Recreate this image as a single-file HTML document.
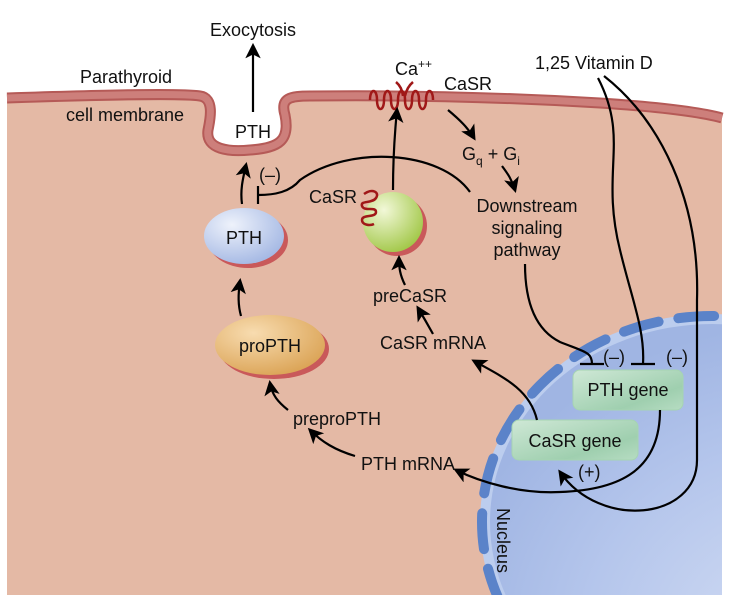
<!DOCTYPE html>
<html><head><meta charset="utf-8"><style>
html,body{margin:0;padding:0;background:#fff;width:733px;height:600px;overflow:hidden;}
svg{display:block;}
text{font-family:"Liberation Sans",Arial,sans-serif;fill:#111;}
</style></head><body>
<svg width="733" height="600" viewBox="0 0 733 600" xmlns="http://www.w3.org/2000/svg">
<defs>
<marker id="ah" viewBox="0 0 10 10" refX="8" refY="5" markerWidth="7" markerHeight="7" orient="auto-start-reverse"><path d="M0,0 L10,5 L0,10 L2.5,5 Z" fill="#000"/></marker>
<radialGradient id="nuc" cx="0.7" cy="0.8" r="0.8"><stop offset="0" stop-color="#d3ddf3"/><stop offset="0.6" stop-color="#b5c6ec"/><stop offset="1" stop-color="#a0b5e3"/></radialGradient>
<radialGradient id="blue" cx="0.35" cy="0.3" r="0.8"><stop offset="0" stop-color="#eef2fb"/><stop offset="1" stop-color="#9fb4e2"/></radialGradient>
<radialGradient id="orange" cx="0.35" cy="0.3" r="0.8"><stop offset="0" stop-color="#f8dcb0"/><stop offset="1" stop-color="#d9a050"/></radialGradient>
<radialGradient id="green" cx="0.35" cy="0.3" r="0.8"><stop offset="0" stop-color="#f2f8d8"/><stop offset="1" stop-color="#9cc43e"/></radialGradient>
<linearGradient id="gene" x1="0" y1="0" x2="1" y2="1"><stop offset="0" stop-color="#cfe8d6"/><stop offset="0.7" stop-color="#9fcfaf"/><stop offset="1" stop-color="#b6dcc2"/></linearGradient>
<clipPath id="cellclip"><rect x="7" y="0" width="715" height="595"/></clipPath>
</defs>
<path d="M7,98 C100,95 180,93 200,96 C215,98 210,120 208,130 C205,150 230,152 250,150 C280,148 290,140 285,115 C280,98 290,96 310,96 C400,95 500,97 600,103 C660,107 700,112 722,118 L722,595 L7,595 Z" fill="#e4b9a5"/>
<g clip-path="url(#cellclip)">
<ellipse cx="712" cy="522" rx="232" ry="208" fill="#bccdee"/>
<ellipse cx="712" cy="522" rx="222" ry="198" fill="url(#nuc)"/>
<ellipse cx="712" cy="522" rx="230" ry="206" fill="none" stroke="#5b83c9" stroke-width="10" stroke-linecap="round" stroke-dasharray="36 20" stroke-dashoffset="14"/>
</g>
<path d="M7,98 C100,95 180,93 200,96 C215,98 210,120 208,130 C205,150 230,152 250,150 C280,148 290,140 285,115 C280,98 290,96 310,96 C400,95 500,97 600,103 C660,107 700,112 722,118" fill="none" stroke="#b55a57" stroke-width="11"/>
<path d="M7,98 C100,95 180,93 200,96 C215,98 210,120 208,130 C205,150 230,152 250,150 C280,148 290,140 285,115 C280,98 290,96 310,96 C400,95 500,97 600,103 C660,107 700,112 722,118" fill="none" stroke="#cd7f7b" stroke-width="7"/>
<path d="M370,100 c0,-12 7,-12 7,0 c0,12 7,12 7,0 c0,-12 7,-12 7,0 c0,12 7,12 7,0 c0,-12 7,-12 7,0 c0,12 7,12 7,0 c0,-12 7,-12 7,0 c0,12 7,12 7,0 c0,-12 7,-12 7,0" fill="none" stroke="#a01818" stroke-width="2.5"/>
<path d="M396,82 q6,5 7,14 M405,96 q2,-9 8,-14" fill="none" stroke="#a01818" stroke-width="2.5"/>
<ellipse cx="248" cy="240" rx="40" ry="28" fill="#c9595a"/>
<ellipse cx="244" cy="236" rx="40" ry="28" fill="url(#blue)"/>
<ellipse cx="274" cy="349" rx="55" ry="30" fill="#c9595a"/>
<ellipse cx="270" cy="345" rx="55" ry="30" fill="url(#orange)"/>
<circle cx="397" cy="226" r="30" fill="#c9595a"/>
<circle cx="393" cy="222" r="30" fill="url(#green)"/>
<path d="M364,194 c8,-6 16,-2 12,4 c-4,6 -16,2 -14,8 c2,6 14,0 14,6 c0,6 -14,2 -14,8 c0,5 8,6 12,4" fill="none" stroke="#a01818" stroke-width="2.5"/>
<rect x="573" y="370" width="110" height="40" rx="7" fill="url(#gene)" stroke="#a6d4b2"/>
<rect x="512" y="420" width="126" height="40" rx="7" fill="url(#gene)" stroke="#a6d4b2"/>
<g fill="none" stroke="#000" stroke-width="2.2">
<path d="M253,112 L253,46" marker-end="url(#ah)"/>
<path d="M242,204 C240,190 243,178 246,165" marker-end="url(#ah)"/>
<path d="M470,192 C440,150 350,145 300,180 C290,192 275,195 258,195"/>
<path d="M258,186 L258,204"/>
<path d="M393,190 C393,160 395,130 397,110" marker-end="url(#ah)"/>
<path d="M448,110 C460,120 468,128 474,138" marker-end="url(#ah)"/>
<path d="M502,166 C508,174 512,180 515,190" marker-end="url(#ah)"/>
<path d="M525,264 C525,310 540,332 560,342 C585,352 592,352 592,364"/>
<path d="M580,364 L604,364"/>
<path d="M598,78 C630,140 600,170 620,250 C632,300 645,330 643,364"/>
<path d="M631,364 L655,364"/>
<path d="M604,76 C660,120 700,200 697,300 L697,460 C697,520 600,530 560,472" marker-end="url(#ah)"/>
<path d="M660,410 C660,470 620,490 560,492 C520,494 480,482 456,470" marker-end="url(#ah)"/>
<path d="M537,420 C530,390 505,378 474,361" marker-end="url(#ah)"/>
<path d="M433,334 C428,325 424,318 418,308" marker-end="url(#ah)"/>
<path d="M405,285 C400,275 399,268 399,258" marker-end="url(#ah)"/>
<path d="M355,456 C335,450 322,442 310,430" marker-end="url(#ah)"/>
<path d="M288,410 C278,402 272,395 270,383" marker-end="url(#ah)"/>
<path d="M241,316 C238,305 238,295 240,281" marker-end="url(#ah)"/>
</g>
<g font-size="18">
<text x="253" y="36" text-anchor="middle">Exocytosis</text>
<text x="80" y="83">Parathyroid</text>
<text x="66" y="121">cell membrane</text>
<text x="253" y="138" text-anchor="middle">PTH</text>
<text x="395" y="75">Ca<tspan font-size="12" dy="-7">++</tspan></text>
<text x="444" y="90">CaSR</text>
<text x="462" y="160">G<tspan font-size="12" dy="5">q</tspan><tspan dy="-5"> + G</tspan><tspan font-size="12" dy="5">i</tspan></text>
<text x="527" y="212" text-anchor="middle">Downstream</text>
<text x="527" y="234" text-anchor="middle">signaling</text>
<text x="527" y="256" text-anchor="middle">pathway</text>
<text x="535" y="69">1,25 Vitamin D</text>
<text x="259" y="181">(–)</text>
<text x="309" y="203">CaSR</text>
<text x="244" y="244" text-anchor="middle">PTH</text>
<text x="270" y="352" text-anchor="middle">proPTH</text>
<text x="410" y="302" text-anchor="middle">preCaSR</text>
<text x="433" y="349" text-anchor="middle">CaSR mRNA</text>
<text x="337" y="425" text-anchor="middle">preproPTH</text>
<text x="408" y="470" text-anchor="middle">PTH mRNA</text>
<text x="628" y="396" text-anchor="middle">PTH gene</text>
<text x="575" y="447" text-anchor="middle">CaSR gene</text>
<text x="603" y="363">(–)</text>
<text x="666" y="363">(–)</text>
<text x="578" y="478">(+)</text>
<text x="0" y="0" transform="translate(497,508) rotate(90)">Nucleus</text>
</g>
</svg>
</body></html>
